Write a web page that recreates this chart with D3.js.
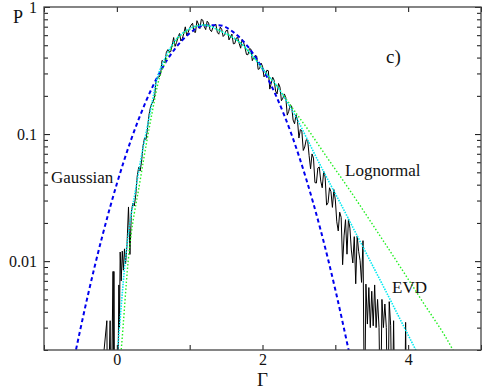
<!DOCTYPE html>
<html>
<head>
<meta charset="utf-8">
<script src="https://cdn.jsdelivr.net/npm/d3@7"></script>
<style>
  body { margin: 0; background: #fff; }
  svg { display: block; font-family: 'Liberation Serif', 'DejaVu Serif', serif; }
</style>
</head>
<body>
<svg id="chart"></svg>
<script>
// axis ticks
const xTicks = [-1, 0, 1, 2, 3, 4, 5]
const xLabels = [0, 2, 4]
const yMajor = [0.01, 0.1, 1]
const yMinor = [0.002, 0.003, 0.004, 0.005, 0.006, 0.007, 0.008, 0.009,
  0.02, 0.03, 0.04, 0.05, 0.06, 0.07, 0.08, 0.09,
  0.2, 0.3, 0.4, 0.5, 0.6, 0.7, 0.8, 0.9]

// measured histogram [Γ, P], P = 0 is an empty bin
const histogram = [
  [-0.275, 0], [-0.137, 0.0034], [-0.126, 0], [-0.092, 0.0034], [-0.080, 0],
  [-0.052, 0.0083], [-0.046, 0], [-0.040, 0.0083], [-0.030, 0], [0.010, 0],
  [0.028, 0.0065], [0.036, 0.0030], [0.046, 0.0118], [0.060, 0.0070], [0.075, 0.0120],
  [0.090, 0.0085], [0.105, 0.0125], [0.120, 0.0095], [0.140, 0.0135], [0.160, 0.0267],
  [0.18, 0.0113], [0.20, 0.0245], [0.22, 0.0286], [0.24, 0.0272], [0.26, 0.0333],
  [0.28, 0.0467], [0.30, 0.0548], [0.32, 0.0512], [0.34, 0.0614], [0.36, 0.0809],
  [0.38, 0.0929], [0.40, 0.0908], [0.42, 0.1089], [0.44, 0.140], [0.46, 0.161],
  [0.48, 0.175], [0.50, 0.181], [0.52, 0.201], [0.54, 0.269], [0.56, 0.281],
  [0.58, 0.281], [0.60, 0.294], [0.62, 0.380], [0.64, 0.371], [0.66, 0.364],
  [0.68, 0.440], [0.70, 0.462], [0.72, 0.444], [0.74, 0.446], [0.76, 0.502],
  [0.78, 0.575], [0.80, 0.490], [0.82, 0.526], [0.84, 0.577], [0.86, 0.619],
  [0.88, 0.540], [0.90, 0.566], [0.92, 0.621], [0.94, 0.698], [0.96, 0.596],
  [0.98, 0.632], [1.00, 0.684], [1.02, 0.721], [1.04, 0.745], [1.06, 0.638],
  [1.08, 0.631], [1.10, 0.780], [1.12, 0.735], [1.14, 0.676], [1.16, 0.800],
  [1.18, 0.789], [1.20, 0.702], [1.22, 0.664], [1.24, 0.773], [1.26, 0.748],
  [1.28, 0.661], [1.30, 0.640], [1.32, 0.695], [1.34, 0.721], [1.36, 0.731],
  [1.38, 0.631], [1.40, 0.611], [1.42, 0.695], [1.44, 0.668], [1.46, 0.586],
  [1.48, 0.604], [1.50, 0.652], [1.52, 0.658], [1.54, 0.551], [1.56, 0.581],
  [1.58, 0.612], [1.60, 0.513], [1.62, 0.516], [1.64, 0.570], [1.66, 0.575],
  [1.68, 0.516], [1.70, 0.474], [1.72, 0.555], [1.74, 0.526], [1.76, 0.478],
  [1.78, 0.423], [1.80, 0.421], [1.82, 0.470], [1.84, 0.467], [1.86, 0.378],
  [1.88, 0.402], [1.90, 0.416], [1.92, 0.411], [1.94, 0.323], [1.96, 0.327],
  [1.98, 0.362], [2.00, 0.342], [2.02, 0.282], [2.04, 0.292], [2.06, 0.318],
  [2.08, 0.315], [2.10, 0.226], [2.12, 0.251], [2.14, 0.280], [2.16, 0.265],
  [2.18, 0.218], [2.20, 0.207], [2.22, 0.250], [2.24, 0.234], [2.26, 0.183],
  [2.28, 0.192], [2.30, 0.207], [2.32, 0.194], [2.34, 0.141], [2.36, 0.151],
  [2.38, 0.170], [2.40, 0.166], [2.42, 0.129], [2.44, 0.1205], [2.46, 0.142],
  [2.48, 0.129], [2.50, 0.0931], [2.52, 0.1086], [2.54, 0.1057], [2.56, 0.0743],
  [2.58, 0.0791], [2.60, 0.0902], [2.62, 0.0897], [2.64, 0.0676], [2.66, 0.0533],
  [2.68, 0.0698], [2.70, 0.0647], [2.72, 0.0415], [2.74, 0.0412], [2.76, 0.0541],
  [2.78, 0.0551], [2.80, 0.0426], [2.82, 0.0378], [2.84, 0.0507], [2.86, 0.0460],
  [2.88, 0.0276], [2.90, 0.0288], [2.92, 0.0378], [2.94, 0.0352], [2.96, 0.0265],
  [2.98, 0.0366], [3.00, 0.0303], [3.02, 0.0204], [3.04, 0.0173], [3.06, 0.0243],
  [3.08, 0.0221], [3.10, 0.00938], [3.12, 0.0158], [3.14, 0.0212], [3.16, 0.01135],
  [3.18, 0.0215], [3.20, 0.0182], [3.22, 0.01225], [3.24, 0.00968], [3.26, 0.0156],
  [3.28, 0.00664], [3.30, 0.0158], [3.32, 0.01197], [3.34, 0.0101], [3.36, 0.00681],
  [3.38, 0.0145], [3.40, 0], [3.42, 0.0066], [3.44, 0.0032], [3.46, 0.0062],
  [3.48, 0.0030], [3.50, 0.0058], [3.52, 0.0031], [3.54, 0.0065], [3.56, 0.0030],
  [3.58, 0.0050], [3.60, 0.0030], [3.62, 0], [3.64, 0.0050], [3.66, 0.0030],
  [3.68, 0.0046], [3.70, 0.0030], [3.72, 0], [3.74, 0.0048], [3.76, 0.0031],
  [3.78, 0], [3.80, 0.0034], [3.82, 0], [3.95, 0], [3.965, 0.0033], [3.98, 0]
]

// fitted curves
const gaussian = [
  [-0.6, 0.00157], [-0.4, 0.00531], [-0.2, 0.0157], [0.0, 0.0406], [0.2, 0.0918],
  [0.4, 0.181], [0.6, 0.313], [0.8, 0.471], [1.0, 0.621], [1.2, 0.715],
  [1.4, 0.720], [1.6, 0.634], [1.8, 0.487], [2.0, 0.327], [2.2, 0.192],
  [2.4, 0.0988], [2.6, 0.0443], [2.8, 0.0174], [3.0, 0.00596], [3.2, 0.00179]
]

const lognormal = [
  [0.030, 0.0013], [0.060, 0.002], [0.156, 0.01005], [0.321, 0.0435], [0.486, 0.149],
  [0.583, 0.276], [0.665, 0.369], [0.789, 0.521], [0.982, 0.659], [1.202, 0.722],
  [1.422, 0.647], [1.697, 0.521], [1.876, 0.404], [2.014, 0.319], [2.206, 0.235],
  [2.344, 0.182], [2.481, 0.141], [2.619, 0.1097], [2.798, 0.0777], [2.977, 0.0551],
  [3.073, 0.0460], [3.624, 0.0155], [4.174, 0.00504], [4.614, 0.002], [4.700, 0.0016]
]

const evd = [
  [-0.020, 0.00123], [0.011, 0.002], [0.115, 0.0100], [0.280, 0.0435], [0.459, 0.149],
  [0.555, 0.276], [0.638, 0.369], [0.775, 0.521], [0.968, 0.659], [1.188, 0.722],
  [1.422, 0.647], [1.697, 0.521], [1.876, 0.404], [2.014, 0.319], [2.206, 0.235],
  [2.344, 0.176], [2.481, 0.129], [2.619, 0.0899], [2.757, 0.0625], [2.936, 0.0398],
  [3.046, 0.0303], [3.252, 0.0179], [3.720, 0.00542], [4.105, 0.002], [4.200, 0.00157]
]

const w = 483
const h = 389
const padL = 44
const padR = 481
const padT = 7
const padB = 350

const svg = d3.select('#chart').attr('width', w).attr('height', h)

const x = d3.scaleLinear().domain([-1, 5]).range([padL, padR])
const y = d3.scaleLog().domain([0.002, 1]).range([padB, padT])

svg.append('defs').append('clipPath').attr('id', 'clip')
  .append('rect')
  .attr('x', padL).attr('y', padT)
  .attr('width', padR - padL).attr('height', padB - padT)

const plot = svg.append('g').attr('clip-path', 'url(#clip)')

const line = d3.line()
  .x((d) => x(d[0]))
  .y((d) => y(Math.max(d[1], 0.0005)))

// data first, fits drawn over it
plot.append('path')
  .attr('d', line.curve(d3.curveLinear)(histogram))
  .attr('fill', 'none')
  .attr('stroke', '#000')
  .attr('stroke-width', 1)

plot.append('path')
  .attr('d', line.curve(d3.curveMonotoneX)(gaussian))
  .attr('fill', 'none')
  .attr('stroke', '#0000ee')
  .attr('stroke-width', 2)
  .attr('stroke-dasharray', '4,3')

plot.append('path')
  .attr('d', line.curve(d3.curveMonotoneX)(lognormal))
  .attr('fill', 'none')
  .attr('stroke', '#22ee22')
  .attr('stroke-width', 1.4)
  .attr('stroke-dasharray', '1.5,2')

plot.append('path')
  .attr('d', line.curve(d3.curveMonotoneX)(evd))
  .attr('fill', 'none')
  .attr('stroke', '#00e8f0')
  .attr('stroke-width', 1.6)
  .attr('stroke-dasharray', '1.5,1.2')

// frame and axes
const styleAxis = (g) => {
  g.select('.domain').remove()
  g.selectAll('line').attr('stroke', '#111')
  g.selectAll('text')
    .attr('fill', '#111')
    .style('font-size', '16px')
    .style('font-family', "'Liberation Serif', serif")
}

svg.append('g')
  .attr('transform', `translate(0,${padB})`)
  .call(d3.axisBottom(x).tickValues(xTicks).tickSize(-5).tickPadding(4)
    .tickFormat((d) => (xLabels.includes(d) ? d : '')))
  .call(styleAxis)

svg.append('g')
  .attr('transform', `translate(0,${padT})`)
  .call(d3.axisTop(x).tickValues(xTicks).tickSize(-5).tickFormat(''))
  .call(styleAxis)

svg.append('g')
  .attr('transform', `translate(${padL},0)`)
  .call(d3.axisLeft(y).tickValues(yMajor).tickSize(-6).tickPadding(7)
    .tickFormat((d) => String(d)))
  .call(styleAxis)

svg.append('g')
  .attr('transform', `translate(${padL},0)`)
  .call(d3.axisLeft(y).tickValues(yMinor).tickSize(-4).tickFormat(''))
  .call(styleAxis)

svg.append('g')
  .attr('transform', `translate(${padR},0)`)
  .call(d3.axisRight(y).tickValues(yMajor).tickSize(-6).tickFormat(''))
  .call(styleAxis)

svg.append('g')
  .attr('transform', `translate(${padR},0)`)
  .call(d3.axisRight(y).tickValues(yMinor).tickSize(-4).tickFormat(''))
  .call(styleAxis)

svg.append('rect')
  .attr('x', padL).attr('y', padT)
  .attr('width', padR - padL).attr('height', padB - padT)
  .attr('fill', 'none')
  .attr('stroke', '#444')
  .attr('stroke-width', 1.3)

// labels
const label = (txt, lx, ly, size, anchor) =>
  svg.append('text')
    .attr('x', lx).attr('y', ly)
    .attr('text-anchor', anchor || 'start')
    .style('font-size', size + 'px')
    .attr('fill', '#111')
    .text(txt)

label('P', 13, 23, 18)
label('Γ', x(2), 386, 19, 'middle')
label('c)', 386, 63, 19)
label('Gaussian', 51, 183, 17)
label('Lognormal', 345, 176, 17)
label('EVD', 392, 293, 17)
</script>
</body>
</html>
